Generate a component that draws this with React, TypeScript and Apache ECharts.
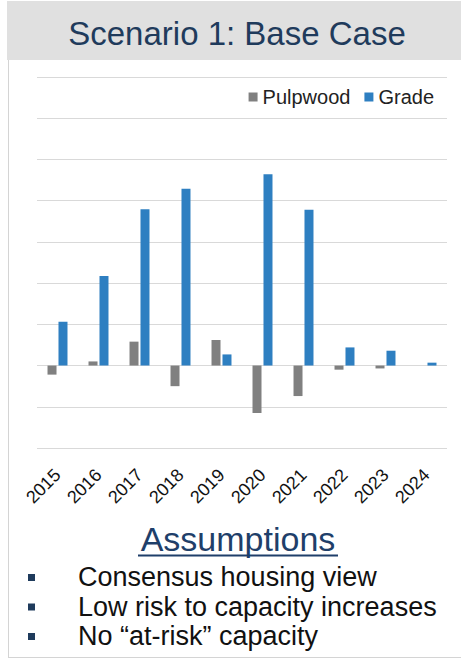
import React, { useEffect, useRef } from "react";
import * as echarts from "echarts";

const years = ["2015", "2016", "2017", "2018", "2019", "2020", "2021", "2022", "2023", "2024"];
const pulpwood = [-0.22, 0.1, 0.58, -0.5, 0.62, -1.15, -0.74, -0.1, -0.07, 0];
const grade = [1.06, 2.17, 3.79, 4.29, 0.27, 4.64, 3.78, 0.44, 0.36, 0.07];
const titleText = "Scenario 1: Base Case";
const assumptionsTitle = "Assumptions";
const assumptions = ["Consensus housing view", "Low risk to capacity increases", "No \u201cat-risk\u201d capacity"];

const FF = "Arial";

export default function App() {
  const ref = useRef<HTMLDivElement>(null);
  useEffect(() => {
    document.body.style.margin = "0";
    const chart = echarts.init(ref.current!, null, { renderer: "svg" });
    const navy = "#1f3b5c";
    const graphic: any[] = [
      { type: "rect", shape: { x: 7, y: 1, width: 454, height: 59 }, style: { fill: "#e0e0e0" }, z: -1 },
      { type: "line", shape: { x1: 8.5, y1: 60, x2: 8.5, y2: 658 }, style: { stroke: "#d4d4d4", lineWidth: 1 } },
      { type: "line", shape: { x1: 8, y1: 657.5, x2: 461, y2: 657.5 }, style: { stroke: "#d4d4d4", lineWidth: 1 } },
      {
        type: "text", x: 237, y: 33,
        style: { text: titleText, fill: navy, fontFamily: FF, fontSize: 33, textAlign: "center", textVerticalAlign: "middle" },
      },
      {
        type: "text", x: 238, y: 539,
        style: { text: assumptionsTitle, fill: "#1f3f6a", fontFamily: FF, fontSize: 34, textAlign: "center", textVerticalAlign: "middle" },
      },
      { type: "line", shape: { x1: 138, y1: 555.5, x2: 338, y2: 555.5 }, style: { stroke: "#1f3f6a", lineWidth: 1.8 } },
    ];
    const lineY = [577, 606.5, 636];
    assumptions.forEach((t, i) => {
      const y = lineY[i];
      graphic.push({ type: "rect", shape: { x: 28, y: y - 3, width: 7, height: 7 }, style: { fill: "#1f3b5c" } });
      graphic.push({
        type: "text", x: 78, y,
        style: { text: t, fill: "#111", fontFamily: FF, fontSize: 27, textAlign: "left", textVerticalAlign: "middle" },
      });
    });
    chart.setOption({
      animation: false,
      textStyle: { fontFamily: FF },
      grid: { left: 37, right: 14, top: 77, bottom: 217, containLabel: false },
      legend: {
        data: ["Pulpwood", "Grade"], right: 22, top: 82, icon: "rect", itemWidth: 9, itemHeight: 9, itemGap: 14,
        textStyle: { fontSize: 20, color: "#222", fontFamily: FF },
      },
      xAxis: {
        type: "category", data: years,
        axisLine: { show: false, onZero: false }, axisTick: { show: false },
        axisLabel: { rotate: 45, fontSize: 18, color: "#111", margin: 24, fontFamily: FF },
      },
      yAxis: {
        type: "value", min: -2, max: 7, interval: 1,
        axisLabel: { show: false }, axisLine: { show: false }, axisTick: { show: false },
        splitLine: { lineStyle: { color: "#d9d9d9", width: 1 } },
      },
      series: [
        { name: "Pulpwood", type: "bar", data: pulpwood, barWidth: 9, barGap: "22%", itemStyle: { color: "#808080" } },
        { name: "Grade", type: "bar", data: grade, barWidth: 9, itemStyle: { color: "#2e7fc1" } },
      ],
      graphic,
    });
    return () => chart.dispose();
  }, []);
  return <div ref={ref} style={{ width: 461, height: 665 }} />;
}
